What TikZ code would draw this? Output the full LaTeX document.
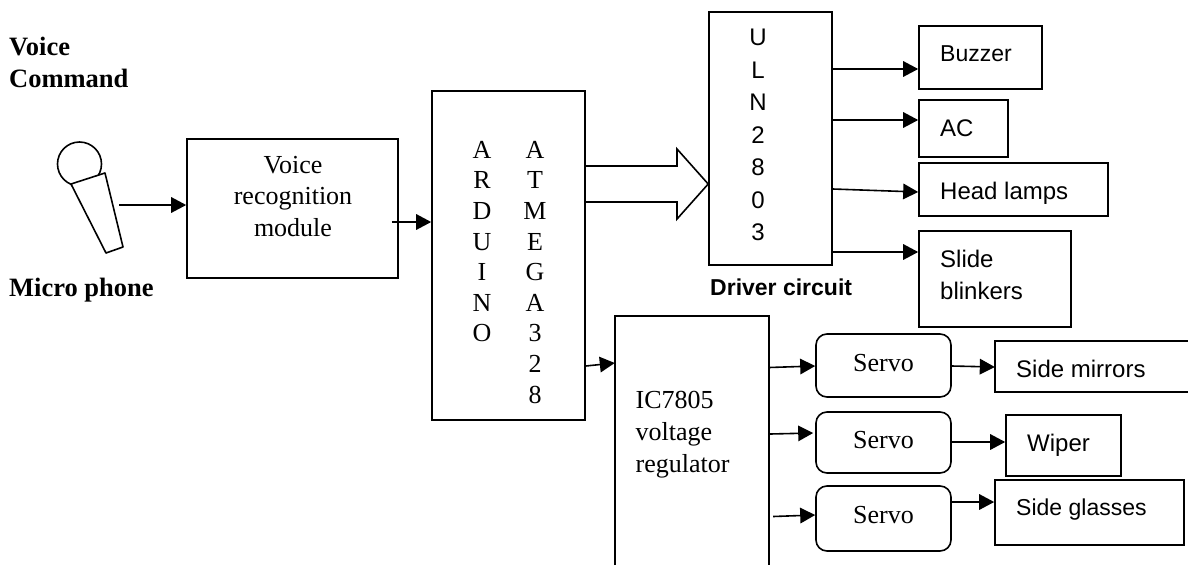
\documentclass[tikz,border=0pt]{standalone}
\usepackage{fontspec}
\setmainfont{Liberation Serif}
\setsansfont{Liberation Sans}
\usetikzlibrary{arrows.meta}
\newcommand{\serif}{\fontsize{26}{31}\selectfont\rmfamily}
\newcommand{\sans}{\fontsize{24}{33}\selectfont\sffamily}
\newcommand{\sanstight}{\fontsize{23}{33}\selectfont\sffamily}
\newcommand{\serifbold}{\fontsize{26.5}{31}\selectfont\rmfamily\bfseries}
\tikzset{
  linework/.style={line width=1.6pt,black},
  blk/.style={linework,draw,rectangle,inner sep=0pt},
  rbox/.style={blk,rounded corners=11pt},
  openbox/.style={rectangle,inner sep=0pt},
  arr/.style={linework,-{Triangle[length=15pt,width=15.5pt]},shorten >=0pt},
  tag/.style={inner sep=0pt,anchor=base west},
  ctag/.style={inner sep=0pt,anchor=base},
  stack/.style={inner sep=0pt,align=center,anchor=north}
}
\begin{document}
\begin{tikzpicture}[x=1pt,y=-1pt]
\useasboundingbox (0,0) rectangle (1188,565);
% microphone
\node[linework,draw,circle,minimum size=44pt,inner sep=0pt] (mic) at (79.5,164) {};
\coordinate (h1) at (71,184);
\coordinate (h2) at (105,173);
\coordinate (h3) at (123,247);
\coordinate (h4) at (106,253);
\coordinate (micout) at (119,205);
\draw[linework,line join=round,fill=white] (h1) -- (h2) -- (h3) -- (h4) -- cycle;
% boxes
\node[blk,minimum width=211pt,minimum height=139pt] (vr) at (292.5,208.5) {};
\node[blk,minimum width=153pt,minimum height=329pt] (ard) at (508.5,255.5) {};
\node[blk,minimum width=123pt,minimum height=253pt] (uln) at (770.5,138.5) {};
\node[blk,minimum width=123pt,minimum height=63pt] (bz) at (980.5,57.5) {};
\node[blk,minimum width=89pt,minimum height=57pt] (ac) at (963.5,128.5) {};
\node[blk,minimum width=189pt,minimum height=53pt] (hl) at (1013.5,189.5) {};
\node[blk,minimum width=152pt,minimum height=96pt] (sb) at (995,279) {};
\node[openbox,minimum width=154pt,minimum height=249pt] (ic) at (692,440.5) {};
\draw[linework] (ic.south west) -- (ic.north west) -- (ic.north east) -- (ic.south east);
\node[rbox,minimum width=135pt,minimum height=63pt] (s1) at (883.5,365.5) {};
\node[rbox,minimum width=135pt,minimum height=61pt] (s2) at (883.5,442.5) {};
\node[rbox,minimum width=135pt,minimum height=65pt] (s3) at (883.5,518.5) {};
\node[openbox,minimum width=193pt,minimum height=51pt] (sm) at (1091.5,366.5) {};
\draw[linework] (sm.north east) -- (sm.north west) -- (sm.south west) -- (sm.south east);
\node[blk,minimum width=115pt,minimum height=61pt] (wp) at (1063.5,445.5) {};
\node[blk,minimum width=189pt,minimum height=65pt] (sg) at (1089.5,512.5) {};
% texts
\node[tag,font=\serifbold] (t1) at (9,55) {Voice};
\node[tag,font=\serifbold] (t2) at (9,87) {Command};
\node[tag,font=\serifbold] (t3) at (9,296) {Micro phone};
\node[ctag,font=\serif] (t4) at (293,173) {Voice};
\node[ctag,font=\serif] (t5) at (293,204) {recognition};
\node[ctag,font=\serif] (t6) at (293,236) {module};
\node[stack,font=\fontsize{26}{30.6}\selectfont\rmfamily] (col1) at (482,141) {A\\R\\D\\U\\I\\N\\O};
\node[stack,font=\fontsize{26}{30.6}\selectfont\rmfamily] (col2) at (535,141) {A\\T\\M\\E\\G\\A\\3\\2\\8};
\node[stack,font=\fontsize{24}{32.5}\selectfont\sffamily] (col3) at (758,29) {U\\L\\N\\2\\8\\0\\3};
\node[tag,font=\fontsize{23}{28}\selectfont\sffamily\bfseries] (t7) at (710,295) {Driver circuit};
\node[tag,font=\sanstight] (t8) at (940,61) {Buzzer};
\node[tag,font=\sans] (t9) at (940,136) {AC};
\node[tag,font=\sans] (t10) at (940,199) {Head lamps};
\node[tag,font=\sans] (t11) at (940,267) {Slide};
\node[tag,font=\sans] (t12) at (940,299) {blinkers};
\node[tag,font=\serif] (t13) at (635.5,408) {IC7805};
\node[tag,font=\serif] (t14) at (635.5,440) {voltage};
\node[tag,font=\serif] (t15) at (635.5,472) {regulator};
\node[ctag,font=\serif] (t16) at (883.5,371) {Servo};
\node[ctag,font=\serif] (t17) at (883.5,448) {Servo};
\node[ctag,font=\serif] (t18) at (883.5,523) {Servo};
\node[tag,font=\sans] (t19) at (1016,377) {Side mirrors};
\node[tag,font=\sans] (t20) at (1027,451) {Wiper};
\node[tag,font=\sanstight] (t21) at (1016,515) {Side glasses};
% connectors
\draw[arr] (micout) -- ([yshift=3.5pt]vr.west);
\draw[arr] ([xshift=-7pt,yshift=-13.5pt]vr.east) -- ([yshift=33.5pt]ard.west);
\draw[arr] ([yshift=-110.5pt]ard.east) -- ([yshift=77.5pt]ic.west);
\draw[arr] ([yshift=69.5pt]uln.east) -- ([yshift=-11.5pt]bz.west);
\draw[arr] ([yshift=18.5pt]uln.east) -- ([yshift=8.5pt]ac.west);
\draw[arr] ([yshift=-50.5pt]uln.east) -- ([yshift=-2.5pt]hl.west);
\draw[arr] ([yshift=-113.5pt]uln.east) -- ([yshift=27pt]sb.west);
\draw[arr] ([yshift=73pt]ic.east) -- ([yshift=-0.5pt]s1.west);
\draw[arr] ([xshift=1pt,yshift=6.5pt]ic.east) -- ([xshift=-2pt,yshift=9.5pt]s2.west);
\draw[arr] ([xshift=4pt,yshift=-76pt]ic.east) -- ([yshift=3.5pt]s3.west);
\draw[arr] ([yshift=-0.5pt]s1.east) -- ([yshift=-0.5pt]sm.west);
\draw[arr] ([yshift=0.5pt]s2.east) -- ([yshift=3.5pt]wp.west);
\draw[arr] ([yshift=16.5pt]s3.east) -- ([yshift=10.5pt]sg.west);
% wide arrow
\coordinate (fatA) at ([yshift=89.5pt]ard.east);
\coordinate (fatB) at ([yshift=53.5pt]ard.east);
\coordinate (fatTip) at ([yshift=-45.5pt]uln.west);
\draw[linework,line join=miter] (fatA) -- (677,166) -- (677,149) -- (fatTip) -- (677,219) -- (677,202) -- (fatB);
\end{tikzpicture}
\end{document}
